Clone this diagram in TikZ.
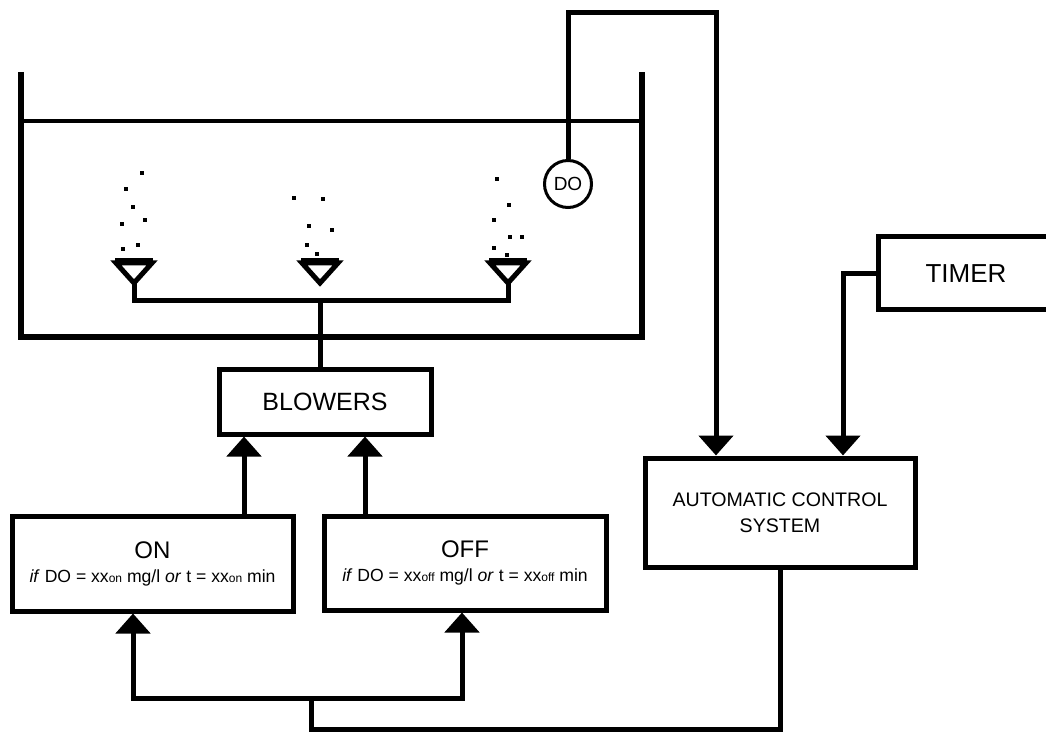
\documentclass[tikz,border=0pt]{standalone}
\usepackage{fontspec}
\setmainfont{Liberation Sans}
\usetikzlibrary{arrows.meta}

\newcommand{\ssub}[1]{{\fontsize{6}{6}\selectfont #1}}

\tikzset{
  box/.style={draw, line width=2.5pt, inner sep=2pt, align=center},
  pipe/.style={line width=2.5pt},
  arr/.style={pipe, -{Triangle[width=17pt,length=10pt]}},
}

\begin{document}
\begin{tikzpicture}[x=0.5pt, y=-0.5pt]
\useasboundingbox (0,0) rectangle (1046,733);

% tank and water level
\draw[line width=3pt] (21,72) -- (21,337) -- (642,337) -- (642,72);
\draw[line width=2pt] (21,121) -- (642,121);

% diffusers
\foreach \d in {134,320,508}{
  \draw[pipe] (\d-18,263) -- (\d+18,263) -- (\d,283) -- cycle;
  \draw[line width=3.5pt] (\d-19,262) -- (\d+19,262);
}
\draw[pipe] (134,283) -- (134,301) -- (508,301) -- (508,283);

% bubbles
\foreach \x/\y in {142/173,126/189,133/207,145/220,122/224,138/245,123/249,
                   294/198,323/199,309/226,332/230,307/245,317/254,
                   497/179,509/205,494/220,510/237,522/237,494/248,507/255}
  \fill (\x-2,\y-2) rectangle (\x+2,\y+2);

% sensor
\node[circle, draw, line width=1.5pt, minimum size=23.5pt, inner sep=0pt,
      font=\fontsize{9.5}{10}\selectfont] (do) at (568,184) {DO};

% boxes
\node[box, minimum width=106pt, minimum height=32pt,
      font=\fontsize{12.5}{14}\selectfont] (blowers) at (325,402) {BLOWERS};
\node[box, minimum width=140.5pt, minimum height=47.5pt] (on) at (152.5,563.5)
  {{\fontsize{12}{14}\selectfont ON}\\
   {\fontsize{8.8}{10}\selectfont \textit{if} DO = xx\ssub{on} mg/l \textit{or} t = xx\ssub{on} min}};
\node[box, minimum width=141pt, minimum height=47pt] (off) at (465,563)
  {{\fontsize{12}{14}\selectfont OFF}\\
   {\fontsize{8.8}{10}\selectfont \textit{if} DO = xx\ssub{off} mg/l \textit{or} t = xx\ssub{off} min}};
\node[box, minimum width=135pt, minimum height=54.5pt,
      font=\fontsize{9.8}{13}\selectfont] (acs) at (780,512.5) {AUTOMATIC CONTROL\\SYSTEM};
\node[box, minimum width=88pt, minimum height=36.5pt,
      font=\fontsize{13}{14}\selectfont] (timer) at (966,273.5) {TIMER};

% measured signals
\coordinate (dotop) at (568,13);
\coordinate (doright) at (716,13);
\draw[arr] (do.north) -- (dotop) -- (doright) -- (doright |- acs.north);
\coordinate (tbend) at (843,0);
\draw[arr] (timer.west) -| (tbend |- acs.north);

% air supply
\coordinate (feed) at (320,301);
\draw[pipe] (feed) -- (feed |- blowers.north);
\coordinate (onup) at (244,0);
\coordinate (offup) at (365,0);
\draw[arr] (onup |- on.north) -- (onup |- blowers.south);
\draw[arr] (offup |- off.north) -- (offup |- blowers.south);

% control output
\coordinate (split) at (311,698);
\coordinate (bottom) at (311,729);
\coordinate (ondown) at (133,0);
\coordinate (offdown) at (462,0);
\draw[pipe] (acs.south) |- (bottom) -- (split);
\draw[arr] (split) -| (ondown |- on.south);
\draw[arr] (split) -| (offdown |- off.south);
\end{tikzpicture}
\end{document}
